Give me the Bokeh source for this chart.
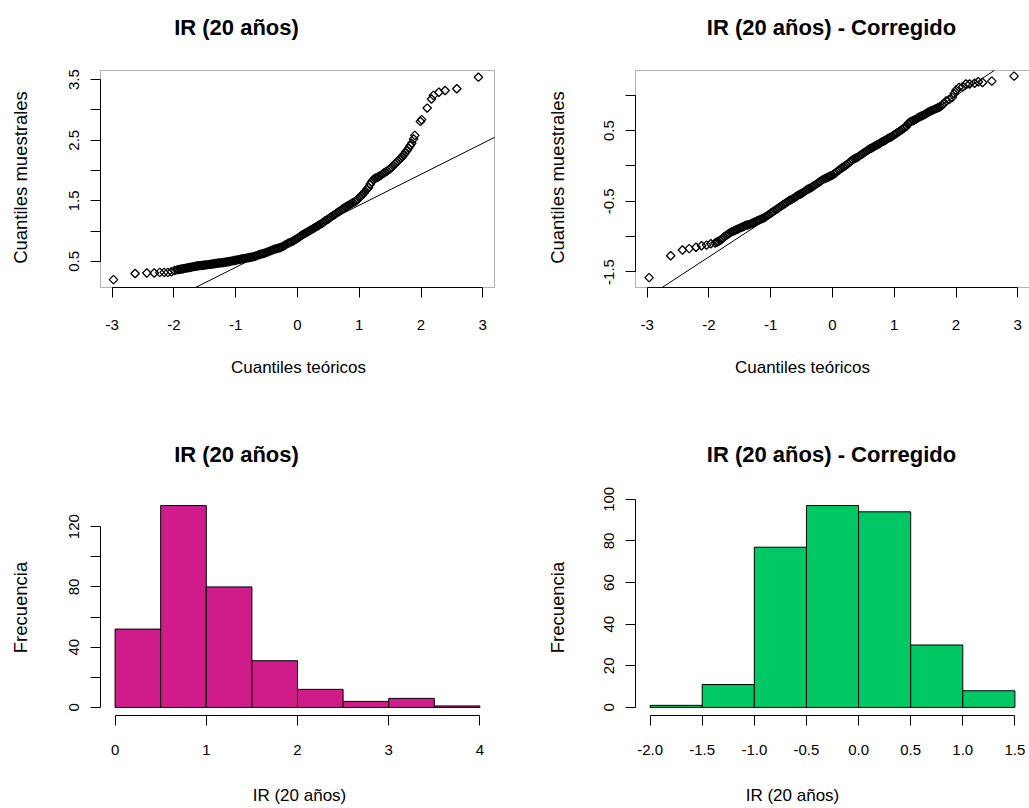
import math
from bokeh.plotting import figure
from bokeh.layouts import column, row
from bokeh.models import Range1d, FixedTicker, Label, BoxAnnotation
from bokeh.embed import file_html
from bokeh.resources import INLINE

# ---------------- data ----------------
# QQ plot 1 : (theoretical quantile, sample quantile)
qq1_points = [
    (-2.98, 0.20), (-2.63, 0.30), (-2.44, 0.31), (-2.32, 0.31), (-2.23, 0.32),
    (-2.16, 0.32), (-2.10, 0.32), (-2.04, 0.33), (-1.99, 0.35),
    (-1.950, 0.360), (-1.925, 0.365), (-1.900, 0.370), (-1.875, 0.375), (-1.850, 0.380),
    (-1.825, 0.385), (-1.800, 0.390), (-1.775, 0.395), (-1.750, 0.400), (-1.725, 0.405),
    (-1.700, 0.410), (-1.675, 0.415), (-1.650, 0.420), (-1.625, 0.425), (-1.600, 0.428),
    (-1.575, 0.431), (-1.550, 0.434), (-1.525, 0.437), (-1.500, 0.440), (-1.475, 0.444),
    (-1.450, 0.448), (-1.425, 0.451), (-1.400, 0.454), (-1.375, 0.458), (-1.350, 0.462),
    (-1.325, 0.466), (-1.300, 0.470), (-1.275, 0.473), (-1.250, 0.476), (-1.225, 0.479),
    (-1.200, 0.482), (-1.175, 0.486), (-1.150, 0.490), (-1.125, 0.495), (-1.100, 0.500),
    (-1.075, 0.505), (-1.050, 0.510), (-1.025, 0.515), (-1.000, 0.520), (-0.975, 0.525),
    (-0.950, 0.530), (-0.925, 0.535), (-0.900, 0.540), (-0.875, 0.545), (-0.850, 0.550),
    (-0.825, 0.555), (-0.800, 0.560), (-0.775, 0.565), (-0.750, 0.570), (-0.725, 0.575),
    (-0.700, 0.582), (-0.675, 0.590), (-0.650, 0.600), (-0.625, 0.610), (-0.600, 0.618),
    (-0.575, 0.625), (-0.550, 0.632), (-0.525, 0.640), (-0.500, 0.650), (-0.475, 0.660),
    (-0.450, 0.670), (-0.425, 0.680), (-0.400, 0.690), (-0.375, 0.700), (-0.350, 0.708),
    (-0.325, 0.715), (-0.300, 0.722), (-0.275, 0.730), (-0.250, 0.740), (-0.225, 0.755),
    (-0.200, 0.770), (-0.175, 0.785), (-0.150, 0.800), (-0.125, 0.810), (-0.100, 0.822),
    (-0.075, 0.835), (-0.050, 0.850), (-0.025, 0.865), (0.000, 0.880), (0.025, 0.900),
    (0.050, 0.918), (0.075, 0.935), (0.100, 0.950), (0.125, 0.965), (0.150, 0.980),
    (0.175, 0.995), (0.200, 1.010), (0.225, 1.025), (0.250, 1.040), (0.275, 1.055),
    (0.300, 1.070), (0.325, 1.085), (0.350, 1.100), (0.375, 1.115), (0.400, 1.130),
    (0.425, 1.150), (0.450, 1.170), (0.475, 1.185), (0.500, 1.200), (0.525, 1.220),
    (0.550, 1.240), (0.575, 1.255), (0.600, 1.270), (0.625, 1.290), (0.650, 1.310),
    (0.675, 1.325), (0.700, 1.340), (0.725, 1.360), (0.750, 1.380), (0.775, 1.395),
    (0.800, 1.410), (0.825, 1.425), (0.850, 1.440), (0.875, 1.455), (0.900, 1.470),
    (0.925, 1.485), (0.950, 1.500), (0.975, 1.525), (1.000, 1.550), (1.025, 1.575),
    (1.050, 1.600), (1.075, 1.630), (1.100, 1.660), (1.125, 1.690), (1.150, 1.720),
    (1.175, 1.770), (1.200, 1.810), (1.225, 1.845), (1.250, 1.870), (1.275, 1.880),
    (1.300, 1.890), (1.325, 1.905), (1.350, 1.920), (1.375, 1.940), (1.400, 1.960),
    (1.425, 1.975), (1.450, 1.990), (1.475, 2.010), (1.500, 2.030), (1.525, 2.055),
    (1.550, 2.080), (1.575, 2.105), (1.600, 2.130), (1.625, 2.155), (1.650, 2.180),
    (1.675, 2.205), (1.700, 2.230), (1.725, 2.265), (1.750, 2.300), (1.775, 2.335),
    (1.800, 2.370), (1.825, 2.410), (1.850, 2.450),
    (1.88, 2.52), (1.90, 2.58), (1.99, 2.81), (2.01, 2.84), (2.10, 3.03),
    (2.17, 3.18), (2.20, 3.24), (2.29, 3.29), (2.39, 3.32), (2.58, 3.35),
    (2.93, 3.54),
]
qq1_quartiles = (0.57, 1.26)   # sample Q1, Q3 (reference line)

# QQ plot 2 (corrected)
qq2_points = [
    (-2.97, -1.58), (-2.62, -1.27), (-2.43, -1.19), (-2.32, -1.17), (-2.21, -1.15),
    (-2.12, -1.13), (-2.04, -1.12), (-1.97, -1.10),
    (-1.900, -1.090), (-1.875, -1.080), (-1.850, -1.070), (-1.825, -1.055), (-1.800, -1.040),
    (-1.775, -1.020), (-1.750, -1.000), (-1.725, -0.985), (-1.700, -0.970), (-1.675, -0.955),
    (-1.650, -0.940), (-1.625, -0.930), (-1.600, -0.920), (-1.575, -0.910), (-1.550, -0.900),
    (-1.525, -0.890), (-1.500, -0.880), (-1.475, -0.870), (-1.450, -0.860), (-1.425, -0.850),
    (-1.400, -0.840), (-1.375, -0.835), (-1.350, -0.830), (-1.325, -0.820), (-1.300, -0.810),
    (-1.275, -0.800), (-1.250, -0.790), (-1.225, -0.780), (-1.200, -0.770), (-1.175, -0.760),
    (-1.150, -0.750), (-1.125, -0.740), (-1.100, -0.730), (-1.075, -0.715), (-1.050, -0.700),
    (-1.025, -0.685), (-1.000, -0.670), (-0.975, -0.655), (-0.950, -0.640), (-0.925, -0.625),
    (-0.900, -0.610), (-0.875, -0.595), (-0.850, -0.580), (-0.825, -0.565), (-0.800, -0.550),
    (-0.775, -0.535), (-0.750, -0.520), (-0.725, -0.505), (-0.700, -0.490), (-0.675, -0.480),
    (-0.650, -0.470), (-0.625, -0.455), (-0.600, -0.440), (-0.575, -0.425), (-0.550, -0.410),
    (-0.525, -0.400), (-0.500, -0.390), (-0.475, -0.375), (-0.450, -0.360), (-0.425, -0.345),
    (-0.400, -0.330), (-0.375, -0.320), (-0.350, -0.310), (-0.325, -0.295), (-0.300, -0.280),
    (-0.275, -0.265), (-0.250, -0.250), (-0.225, -0.235), (-0.200, -0.220), (-0.175, -0.205),
    (-0.150, -0.190), (-0.125, -0.180), (-0.100, -0.170), (-0.075, -0.160), (-0.050, -0.150),
    (-0.025, -0.140), (0.000, -0.130), (0.025, -0.115), (0.050, -0.100), (0.075, -0.080),
    (0.100, -0.060), (0.125, -0.045), (0.150, -0.030), (0.175, -0.015), (0.200, 0.000),
    (0.225, 0.015), (0.250, 0.030), (0.275, 0.050), (0.300, 0.070), (0.325, 0.085),
    (0.350, 0.100), (0.375, 0.110), (0.400, 0.120), (0.425, 0.135), (0.450, 0.150),
    (0.475, 0.165), (0.500, 0.180), (0.525, 0.195), (0.550, 0.210), (0.575, 0.225),
    (0.600, 0.240), (0.625, 0.250), (0.650, 0.260), (0.675, 0.275), (0.700, 0.290),
    (0.725, 0.300), (0.750, 0.310), (0.775, 0.325), (0.800, 0.340), (0.825, 0.350),
    (0.850, 0.360), (0.875, 0.375), (0.900, 0.390), (0.925, 0.400), (0.950, 0.410),
    (0.975, 0.425), (1.000, 0.440), (1.025, 0.455), (1.050, 0.470), (1.075, 0.485),
    (1.100, 0.500), (1.125, 0.515), (1.150, 0.530), (1.175, 0.545), (1.200, 0.560),
    (1.225, 0.600), (1.250, 0.620), (1.275, 0.630), (1.300, 0.640), (1.325, 0.650),
    (1.350, 0.660), (1.375, 0.675), (1.400, 0.690), (1.425, 0.700), (1.450, 0.710),
    (1.475, 0.720), (1.500, 0.730), (1.525, 0.745), (1.550, 0.760), (1.575, 0.770),
    (1.600, 0.780), (1.625, 0.790), (1.650, 0.800), (1.675, 0.810), (1.700, 0.820),
    (1.725, 0.830), (1.750, 0.840), (1.775, 0.860), (1.800, 0.880),
    (1.84, 0.92), (1.89, 0.94), (1.94, 0.97), (1.97, 1.02), (2.00, 1.07),
    (2.05, 1.11), (2.11, 1.12), (2.16, 1.16), (2.22, 1.16), (2.30, 1.17),
    (2.36, 1.19), (2.43, 1.18), (2.58, 1.20), (2.94, 1.27),
]
qq2_quartiles = (-0.53, 0.24)

# Histograms
hist1_edges = [0.0, 0.5, 1.0, 1.5, 2.0, 2.5, 3.0, 3.5, 4.0]
hist1_counts = [52, 134, 80, 31, 12, 4, 6, 1]
hist2_edges = [-2.0, -1.5, -1.0, -0.5, 0.0, 0.5, 1.0, 1.5]
hist2_counts = [1, 11, 77, 97, 94, 30, 8]

# Tick values and labels
qq_xticks = [-3, -2, -1, 0, 1, 2, 3]
qq_xlabels = ["-3", "-2", "-1", "0", "1", "2", "3"]
qq1_yticks = [0.5, 1.0, 1.5, 2.0, 2.5, 3.0, 3.5]
qq1_ylabels = ["0.5", "", "1.5", "", "2.5", "", "3.5"]
qq2_yticks = [-1.5, -1.0, -0.5, 0.0, 0.5, 1.0]
qq2_ylabels = ["-1.5", "", "-0.5", "", "0.5", ""]
h1_xticks = [0, 1, 2, 3, 4]
h1_xlabels = ["0", "1", "2", "3", "4"]
h1_yticks = [0, 20, 40, 60, 80, 100, 120]
h1_ylabels = ["0", "", "40", "", "80", "", "120"]
h2_xticks = [-2.0, -1.5, -1.0, -0.5, 0.0, 0.5, 1.0, 1.5]
h2_xlabels = ["-2.0", "-1.5", "-1.0", "-0.5", "0.0", "0.5", "1.0", "1.5"]
h2_yticks = [0, 20, 40, 60, 80, 100]
h2_ylabels = ["0", "20", "40", "60", "80", "100"]

title_main = "IR (20 años)"
title_corr = "IR (20 años) - Corregido"
xlab_qq = "Cuantiles teóricos"
ylab_qq = "Cuantiles muestrales"
xlab_h = "IR (20 años)"
ylab_h = "Frecuencia"

# ---------------- styling ----------------
FONT = "Liberation Sans"
TICK_SIZE = "15px"
XLAB_SIZE = "17px"
YLAB_SIZE = "18.5px"
TITLE_SIZE = "22px"
MAGENTA = "#D01C8B"
GREEN = "#00C864"


class Panel:
    """A figure whose frame fills its canvas; the plotting box sits inside it."""

    def __init__(self, W, H, ox, oy, box, xr, yr):
        self.ox, self.oy = ox, oy          # canvas origin on the page
        self.box, self.xr, self.yr = box, xr, yr
        bl, bt, bw, bh = box
        self.kx = (xr[1] - xr[0]) / bw
        self.ky = (yr[1] - yr[0]) / bh
        cx = (xr[0] - bl * self.kx, xr[0] + (W - bl) * self.kx)
        cy = (yr[1] - (H - bt) * self.ky, yr[1] + bt * self.ky)
        p = figure(width=W, height=H, x_range=Range1d(*cx), y_range=Range1d(*cy),
                   min_border=0, min_border_left=0, min_border_right=0,
                   min_border_top=0, min_border_bottom=0,
                   output_backend="svg", toolbar_location=None, tools="")
        p.xgrid.visible = False
        p.ygrid.visible = False
        p.outline_line_color = None
        p.background_fill_color = "white"
        p.border_fill_color = "white"
        self.p = p

    def to_data(self, px, py):
        bl, bt, bw, bh = self.box
        x = self.xr[0] + (px - self.ox - bl) * self.kx
        y = self.yr[1] - (py - self.oy - bt) * self.ky
        return x, y

    def text(self, px, py, text, size, bold=False, angle=0.0):
        x, y = self.to_data(px, py)
        self.p.add_layout(Label(x=x, y=y, text=text, text_align="center",
                                text_baseline="middle", angle=angle,
                                text_font=FONT, text_font_size=size,
                                text_font_style="bold" if bold else "normal",
                                text_color="black"))

    def axes(self, xt, xl, yt, yl, xstand, ystand):
        p = self.p
        p.xaxis.fixed_location = self.yr[0]
        p.yaxis.fixed_location = self.xr[0]
        p.xaxis.ticker = FixedTicker(ticks=xt)
        p.yaxis.ticker = FixedTicker(ticks=yt)
        p.xaxis.major_label_overrides = {float(t): s for t, s in zip(xt, xl)}
        p.yaxis.major_label_overrides = {float(t): s for t, s in zip(yt, yl)}
        p.xaxis.bounds = (min(xt), max(xt))
        p.yaxis.bounds = (min(yt), max(yt))
        for ax in (p.xaxis[0], p.yaxis[0]):
            ax.major_tick_in = 0
            ax.major_tick_out = 10
            ax.minor_tick_line_color = None
            ax.axis_line_color = "black"
            ax.major_tick_line_color = "black"
            ax.major_label_text_font = FONT
            ax.major_label_text_font_size = TICK_SIZE
            ax.major_label_text_color = "black"
        p.xaxis.major_label_standoff = xstand
        p.yaxis.major_label_standoff = ystand
        p.yaxis.major_label_orientation = "vertical"


def qq_panel(W, ox, box, points, quart, xr, yr, yt, yl, title, tpos, xpos, ypos):
    pan = Panel(W, 400, ox, 0, box, xr, yr)
    p = pan.p
    p.add_layout(BoxAnnotation(left=xr[0], right=xr[1], bottom=yr[0], top=yr[1],
                               fill_color=None, line_color="black", line_width=1))
    xs = [a for a, b in points]
    ys = [b for a, b in points]
    p.scatter(xs, ys, marker="square", angle=math.pi / 4, size=6,
              fill_color=None, line_color="black", line_width=1.3)
    # reference line through the quartiles (as qqline), kept inside the box
    z = 0.6745
    slope = (quart[1] - quart[0]) / (2 * z)
    icpt = quart[0] + z * slope
    xa, xb = xr
    if icpt + slope * xa < yr[0]:
        xa = (yr[0] - icpt) / slope
    if icpt + slope * xb > yr[1]:
        xb = (yr[1] - icpt) / slope
    p.line([xa, xb], [icpt + slope * xa, icpt + slope * xb], line_color="black", line_width=1)
    pan.axes(qq_xticks, qq_xlabels, yt, yl, 22, 11)
    pan.text(*tpos, title, TITLE_SIZE, bold=True)
    pan.text(*xpos, xlab_qq, XLAB_SIZE)
    pan.text(*ypos, ylab_qq, YLAB_SIZE, angle=math.pi / 2)
    return p


def hist_panel(W, ox, box, edges, counts, color, xr, yr, xt, xl, yt, yl, title, tpos, xpos, ypos):
    pan = Panel(W, 408, ox, 400, box, xr, yr)
    p = pan.p
    p.quad(left=edges[:-1], right=edges[1:], bottom=0, top=counts,
           fill_color=color, line_color="black", line_width=1)
    pan.axes(xt, xl, yt, yl, 19, 11)
    pan.text(*tpos, title, TITLE_SIZE, bold=True)
    pan.text(*xpos, xlab_h, XLAB_SIZE)
    pan.text(*ypos, ylab_h, YLAB_SIZE, angle=math.pi / 2)
    return p


qq_xr = (-3.19, 3.19)
p1 = qq_panel(540, 0, (100, 70, 394, 217), qq1_points, qq1_quartiles, qq_xr, (0.07, 3.65),
              qq1_yticks, qq1_ylabels, title_main, (236, 27), (298, 367), (20, 177))
p2 = qq_panel(489, 540, (95, 70, 394, 217), qq2_points, qq2_quartiles, qq_xr, (-1.72, 1.35),
              qq2_yticks, qq2_ylabels, title_corr, (831, 27), (802, 367), (557, 177))
p3 = hist_panel(540, 0, (100, 97, 394, 218), hist1_edges, hist1_counts, MAGENTA,
                (-0.16, 4.16), (-5.36, 139.36), h1_xticks, h1_xlabels, h1_yticks, h1_ylabels,
                title_main, (236, 454), (299, 795), (20, 607))
p4 = hist_panel(489, 540, (95, 97, 394, 218), hist2_edges, hist2_counts, GREEN,
                (-2.14, 1.64), (-3.88, 100.88), h2_xticks, h2_xlabels, h2_yticks, h2_ylabels,
                title_corr, (831, 454), (792, 795), (557, 607))

layout = column(row(p1, p2), row(p3, p4))
open("out.html", "w").write(file_html(layout, INLINE))
